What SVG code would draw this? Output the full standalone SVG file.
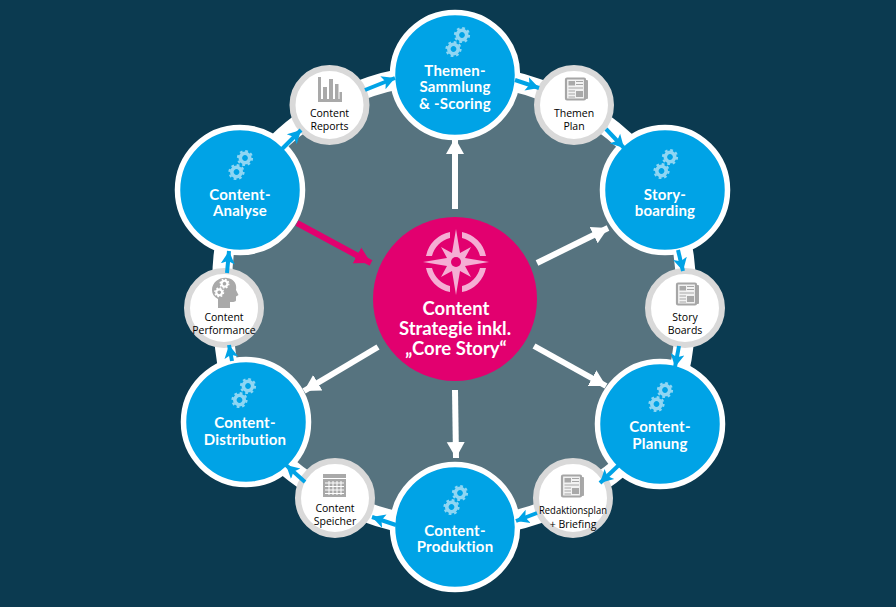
<svg xmlns="http://www.w3.org/2000/svg" xmlns:xlink="http://www.w3.org/1999/xlink" width="896" height="607" viewBox="0 0 896 607">
<style>
.big{fill:#00a3e6;stroke:#fff;stroke-width:5.500}
.small{fill:#fff;stroke:#d9d9d9;stroke-width:6}
.bl{font:700 15px "Lato",sans-serif;fill:#fff;text-anchor:middle;letter-spacing:.2px}
.sl{font:400 10.5px "Open Sans",sans-serif;fill:#000;text-anchor:middle}
.cl{font:700 18.5px "Lato",sans-serif;fill:#fff;text-anchor:middle}
.flow{stroke:#00a3e6;stroke-width:4;fill:none;marker-end:url(#ab)}
.spoke{stroke:#fff;stroke-width:6;fill:none;marker-end:url(#aw)}
.doc{fill:#f2f2f2;stroke:#a6a6a6;stroke-width:2.200}
.ic{fill:#a9a9a9}
</style>
<defs>
<marker id="ab" markerUnits="userSpaceOnUse" markerWidth="16" markerHeight="16" refX="13" refY="8" orient="auto"><path d="M0 1L13 8L0 15L3 8z" fill="#00a3e6"/></marker>
<marker id="aw" markerUnits="userSpaceOnUse" markerWidth="22" markerHeight="22" refX="16" refY="11" orient="auto"><path d="M0 2L16 11L0 20z" fill="#fff"/></marker>
<marker id="ap" markerUnits="userSpaceOnUse" markerWidth="22" markerHeight="22" refX="16" refY="11" orient="auto"><path d="M0 2L16 11L0 20z" fill="#e2006f"/></marker>
<g id="gear1"><circle r="4.700" fill="none" stroke="currentColor" stroke-width="3.600"/><circle r="7" fill="none" stroke="currentColor" stroke-width="2.200" stroke-dasharray="2.750 2.750"/></g>
<g id="gears"><use xlink:href="#gear1" x="4" y="-7"/><use xlink:href="#gear1" x="-4.500" y="7"/></g>
<g id="news"><rect x="-4" y="-9" width="15" height="19" rx="1" class="ic"/><rect x="-11" y="-10.500" width="19" height="21" rx="1" class="doc"/><rect x="-8.500" y="-8" width="6.500" height="4.500" class="ic"/><path d="M-1-7.500h7M-1-4.500h7M-8.500-1h14.500M-8.500 2h6.500M-8.500 5h6.500M-8.500 8h6.500" stroke="#a6a6a6" stroke-width="1.200"/><rect x="-1" y="2" width="7" height="6" class="ic"/></g>
</defs>
<rect width="896" height="607" fill="#0b3a50"/>
<g id="ring">
<path d="M455 75A240 240 0 0 1 574 105A240 240 0 0 1 665 190A240 240 0 0 1 685 308A240 240 0 0 1 660 424A240 240 0 0 1 573 498A240 240 0 0 1 455 527A240 240 0 0 1 335 498A240 240 0 0 1 246 422A240 240 0 0 1 224 308A240 240 0 0 1 240 190A240 240 0 0 1 329 105A240 240 0 0 1 455 75Z" fill="#56737f" stroke="#fff" stroke-width="20" stroke-linejoin="round"/>
</g>
<g id="themen"><circle class="big" cx="455" cy="75" r="62.500"/><use xlink:href="#gears" x="458" y="42" color="#8fd6f3"/><text class="bl" x="455" y="76">Themen-</text><text class="bl" x="455" y="92">Sammlung</text><text class="bl" x="455" y="109">&amp; -Scoring</text></g>
<g id="storyboarding"><circle class="big" cx="665" cy="190" r="62.500"/><use xlink:href="#gears" x="666" y="164" color="#8fd6f3"/><text class="bl" x="665" y="200">Story-</text><text class="bl" x="665" y="216">boarding</text></g>
<g id="planung"><circle class="big" cx="660" cy="424" r="62.500"/><use xlink:href="#gears" x="661" y="397" color="#8fd6f3"/><text class="bl" x="660" y="432">Content-</text><text class="bl" x="660" y="449">Planung</text></g>
<g id="produktion"><circle class="big" cx="455" cy="527" r="62.500"/><use xlink:href="#gears" x="456" y="500" color="#8fd6f3"/><text class="bl" x="455" y="536">Content-</text><text class="bl" x="455" y="552">Produktion</text></g>
<g id="distribution"><circle class="big" cx="246" cy="422" r="62.500"/><use xlink:href="#gears" x="244" y="393" color="#8fd6f3"/><text class="bl" x="245" y="428">Content-</text><text class="bl" x="245" y="445">Distribution</text></g>
<g id="analyse"><circle class="big" cx="240" cy="190" r="62.500"/><use xlink:href="#gears" x="241" y="165" color="#8fd6f3"/><text class="bl" x="240" y="200">Content-</text><text class="bl" x="240" y="216">Analyse</text></g>
<g id="reports"><circle class="small" cx="329.500" cy="105" r="37"/><path class="ic" d="M318 77h3v22h21v3h-24zM323 87h4v12h-4zM329 79h4v20h-4zM335 84h3.500v15h-3.500zM339.500 92h2.500v7h-2.500z"/><text class="sl" x="329.500" y="117">Content</text><text class="sl" x="329.500" y="130">Reports</text></g>
<g id="themenplan"><circle class="small" cx="574" cy="105" r="37"/><use xlink:href="#news" x="577" y="89"/><text class="sl" x="574" y="117">Themen</text><text class="sl" x="574" y="130">Plan</text></g>
<g id="storyboards"><circle class="small" cx="685" cy="308" r="37"/><use xlink:href="#news" x="688" y="294"/><text class="sl" x="685" y="321">Story</text><text class="sl" x="685" y="334">Boards</text></g>
<g id="redaktion"><circle class="small" cx="573" cy="498" r="37"/><use xlink:href="#news" x="573" y="486"/><text class="sl" x="573" y="514" textLength="68" lengthAdjust="spacingAndGlyphs">Redaktionsplan</text><text class="sl" x="573" y="528">+ Briefing</text></g>
<g id="speicher"><circle class="small" cx="335" cy="498" r="37"/><rect class="ic" x="323" y="474" width="23" height="23"/><path d="M323 478.500h23" stroke="#fff" stroke-width="1"/><path d="M325 483h19M325 486.500h19M325 490h19M325 493.500h19M329 481v14M333 481v14M337 481v14M341 481v14" stroke="#fff" stroke-width="1"/><text class="sl" x="335" y="512">Content</text><text class="sl" x="335" y="525">Speicher</text></g>
<g id="performance"><circle class="small" cx="224" cy="308" r="37"/><path class="ic" d="M212 290C212 282 220 277 227 278C235 279 237 285 236 290L238.500 295L236 296.500V300C236 302 233 302 230 302V308H218V299C214 297 212 294 212 290Z"/><use xlink:href="#gears" transform="translate(222 288) scale(.62)" color="#fff"/><text class="sl" x="224" y="321">Content</text><text class="sl" x="224" y="334">Performance</text></g>
<g id="center"><circle cx="455" cy="299" r="82" fill="#e2006f"/>
<g fill="#f5aed4"><path d="M456 229L460 253L471 247L465 258L489 262L465 266L471 277L460 271L456 295L452 271L441 277L447 266L423 262L447 258L441 247L452 253Z"/><path d="M462 232A30.600 30.600 0 0 1 486 256L480 256A24.700 24.700 0 0 0 462 238ZM450 232A30.600 30.600 0 0 0 426 256L432 256A24.700 24.700 0 0 1 450 238ZM426 268A30.600 30.600 0 0 0 450 292L450 286A24.700 24.700 0 0 1 432 268ZM486 268A30.600 30.600 0 0 1 462 292L462 286A24.700 24.700 0 0 0 480 268Z"/></g><circle cx="456" cy="262" r="5" fill="#e2006f"/>
<text class="cl" x="456" y="315">Content</text><text class="cl" x="455" y="335">Strategie inkl.</text><text class="cl" x="456" y="355">„Core Story“</text></g>
<g id="connectors">
<path class="flow" d="M365 90L395 78"/>
<path class="flow" d="M515 80L539 88"/>
<path class="flow" d="M606 129L624 148"/>
<path class="flow" d="M678 250L683 271"/>
<path class="flow" d="M679 346L675 367"/>
<path class="flow" d="M620 464L600 483"/>
<path class="flow" d="M537 513L516 521"/>
<path class="flow" d="M396 525L372 517"/>
<path class="flow" d="M305 482L286 465"/>
<path class="flow" d="M232 361L229 345"/>
<path class="flow" d="M227 273L229 251"/>
<path class="flow" d="M282 149L301 130"/>
<path class="spoke" d="M455 209L455 138"/>
<path class="spoke" d="M537 263L608 228"/>
<path class="spoke" d="M534 346L606 386"/>
<path class="spoke" d="M455 390L456 458"/>
<path class="spoke" d="M378 347L304 391"/>
<path d="M297 223L371 263" stroke="#e2006f" stroke-width="6" fill="none" marker-end="url(#ap)"/>
</g>
</svg>
